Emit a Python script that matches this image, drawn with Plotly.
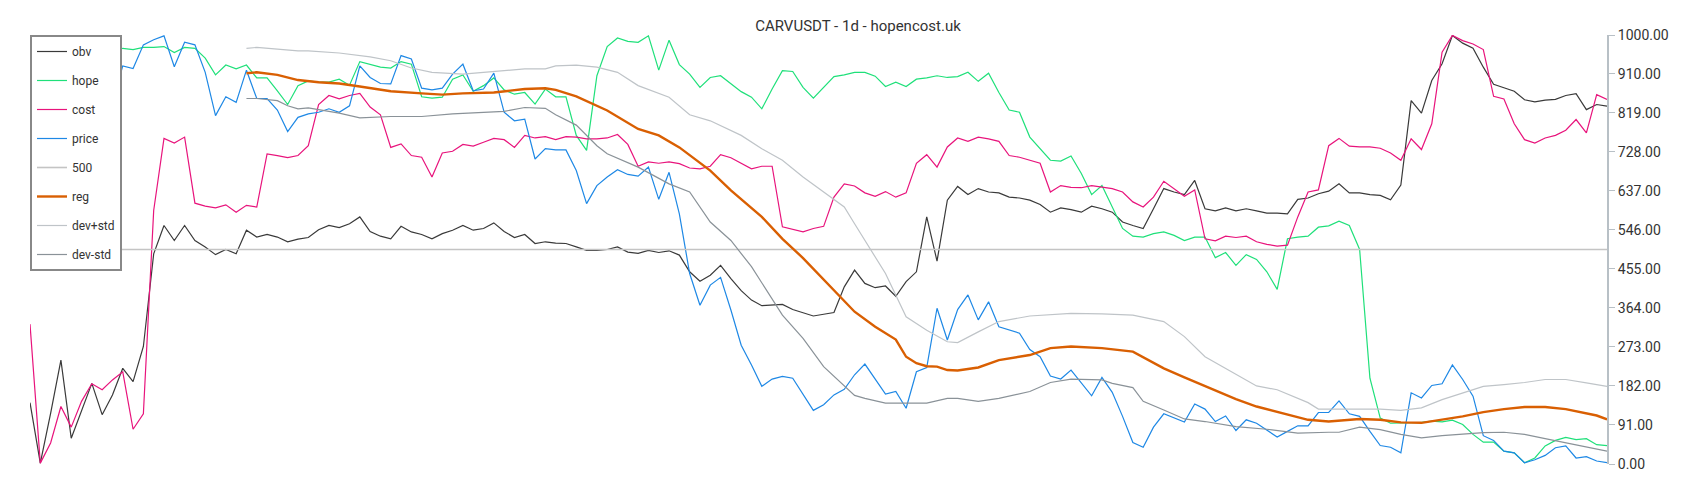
import plotly.graph_objects as go

# daily candles, index 0..153 (one per day)
obv = [143, 2, 118, 242, 60, 126, 188, 115, 161, 223, 192, 274, 490, 556, 521, 556, 521, 506, 488, 500,
       490, 545, 529, 535, 529, 518, 524, 528, 546, 556, 551, 560, 576, 542, 531, 525, 554, 541, 535, 525,
       537, 545, 556, 545, 549, 562, 542, 528, 535, 514, 518, 515, 514, 506, 498, 498, 500, 506, 494, 491,
       498, 493, 497, 487, 448, 426, 440, 463, 432, 404, 382, 369, 370, 372, 360, 353, 345, 349, 353, 413,
       452, 421, 411, 415, 391, 425, 448, 576, 473, 615, 647, 628, 642, 634, 632, 622, 620, 615, 605, 587,
       597, 593, 587, 601, 595, 587, 564, 556, 549, 595, 642, 634, 628, 661, 595, 590, 597, 590, 595, 590,
       585, 585, 583, 617, 620, 630, 636, 653, 632, 632, 628, 626, 616, 650, 847, 818, 894, 933, 999, 981,
       969, 925, 885, 877, 869, 849, 844, 848, 850, 859, 863, 826, 838, 834]
hope = [955, 965, 965, 968, 965, 970, 965, 960, 958, 969, 966, 971, 971, 973, 959, 971, 969, 946, 907, 930,
        921, 930, 900, 900, 870, 838, 882, 893, 890, 890, 897, 883, 938, 932, 925, 923, 938, 932, 856, 853,
        855, 897, 907, 869, 882, 900, 872, 862, 866, 839, 874, 856, 856, 766, 731, 905, 973, 993, 985, 983,
        998, 918, 988, 931, 909, 878, 901, 905, 886, 868, 855, 828, 874, 917, 915, 878, 853, 878, 903, 907,
        913, 913, 904, 880, 890, 880, 897, 900, 905, 901, 903, 913, 892, 911, 866, 825, 820, 762, 735, 708,
        706, 718, 677, 628, 649, 599, 549, 531, 529, 537, 541, 533, 521, 529, 529, 481, 493, 463, 488, 477,
        448, 407, 525, 529, 531, 552, 555, 566, 556, 500, 200, 107, 95, 96, 97, 97, 100, 98, 102, 92,
        69, 51, 51, 30, 26, 3, 14, 42, 55, 62, 57, 59, 45, 43]
cost = [326, 2, 49, 134, 86, 146, 187, 173, 196, 215, 81, 117, 591, 759, 748, 762, 608, 601, 597, 604,
        587, 603, 599, 723, 719, 714, 719, 742, 838, 859, 851, 859, 864, 832, 814, 738, 746, 719, 715, 669,
        725, 729, 745, 741, 750, 759, 756, 738, 766, 760, 763, 756, 763, 762, 758, 758, 760, 768, 745, 694,
        704, 701, 704, 700, 690, 688, 694, 721, 714, 701, 688, 694, 694, 553, 547, 541, 549, 554, 622, 653,
        648, 632, 624, 635, 622, 632, 701, 721, 692, 739, 760, 752, 762, 758, 752, 719, 715, 708, 701, 634,
        649, 645, 644, 649, 645, 642, 634, 611, 599, 622, 659, 642, 624, 639, 525, 520, 531, 528, 531, 518,
        512, 508, 510, 576, 634, 639, 742, 759, 741, 739, 739, 736, 725, 708, 758, 733, 793, 960, 999, 987,
        979, 966, 857, 851, 793, 756, 748, 760, 766, 778, 803, 772, 861, 850]
price = [820, 840, 900, 930, 925, 960, 940, 870, 843, 928, 922, 977, 989, 998, 926, 983, 977, 913, 812, 856,
         843, 918, 852, 852, 825, 775, 808, 816, 820, 828, 820, 835, 928, 901, 887, 886, 952, 944, 876, 872,
         876, 909, 932, 870, 874, 911, 820, 800, 804, 711, 735, 732, 732, 684, 607, 649, 669, 686, 675, 671,
         692, 617, 680, 583, 444, 370, 417, 435, 359, 277, 231, 181, 198, 204, 200, 161, 125, 138, 161, 174,
         208, 233, 198, 163, 169, 130, 215, 225, 363, 289, 360, 394, 336, 378, 320, 312, 305, 267, 250, 205,
         198, 219, 188, 159, 202, 167, 111, 50, 39, 86, 117, 108, 98, 140, 128, 99, 112, 78, 103, 95,
         80, 63, 76, 89, 89, 120, 120, 147, 117, 111, 76, 43, 39, 26, 166, 154, 183, 187, 231, 197,
         158, 66, 55, 30, 26, 3, 10, 20, 38, 42, 14, 17, 7, 3]

reg_idx = [21, 22, 24, 25, 26, 28, 30, 32, 33, 35, 38, 40, 42, 45, 48, 50, 51, 53, 56, 59, 61, 63, 66, 68,
           71, 73, 75, 77, 80, 82, 84, 85, 86, 87, 88, 89, 90, 92, 94, 97, 99, 101, 104, 107, 109, 110,
           112, 114, 117, 119, 122, 124, 126, 129, 131, 133, 135, 137, 139, 141, 143, 145, 147, 149, 150,
           151, 152, 153]
reg_val = [911, 913, 907, 901, 895, 890, 887, 880, 876, 869, 864, 861, 864, 866, 874, 876, 872, 857, 824,
           781, 766, 738, 684, 638, 576, 525, 480, 430, 355, 320, 290, 250, 235, 228, 227, 219, 218, 225,
           242, 254, 270, 274, 270, 262, 236, 223, 202, 181, 151, 134, 116, 103, 99, 105, 103, 97, 96,
           104, 111, 121, 128, 133, 133, 128, 123, 119, 113, 104]

up_idx = [21, 22, 24, 25, 26, 27, 30, 33, 35, 37, 39, 42, 45, 48, 50, 51, 53, 55, 57, 59, 62, 64, 66, 69,
          71, 73, 75, 77, 79, 80, 81, 83, 85, 87, 89, 90, 92, 94, 97, 101, 104, 107, 110, 112, 114, 117,
          119, 121, 123, 124, 125, 128, 131, 133, 135, 137, 139, 141, 143, 145, 147, 149, 151, 153]
up_val = [969, 971, 967, 965, 963, 963, 958, 949, 940, 923, 913, 909, 915, 921, 921, 928, 930, 925, 913,
          882, 855, 814, 800, 766, 735, 708, 669, 634, 599, 560, 522, 444, 343, 312, 285, 283, 308, 332,
          345, 351, 350, 347, 332, 297, 250, 210, 182, 173, 153, 143, 128, 128, 128, 125, 131, 150, 166,
          181, 185, 190, 197, 197, 189, 181]

dn_idx = [21, 22, 24, 25, 26, 27, 30, 32, 35, 38, 41, 44, 46, 48, 50, 51, 53, 55, 56, 59, 62, 64, 66, 68,
          70, 73, 75, 77, 79, 80, 81, 83, 87, 89, 90, 92, 94, 97, 99, 101, 104, 105, 107, 108, 110, 112,
          114, 117, 120, 123, 126, 127, 129, 131, 133, 135, 137, 139, 141, 143, 145, 147, 149, 151, 153]
dn_val = [852, 852, 847, 835, 828, 830, 818, 807, 810, 810, 816, 820, 822, 831, 829, 814, 790, 742, 723,
          692, 653, 634, 564, 521, 460, 347, 293, 227, 181, 160, 153, 142, 142, 153, 153, 146, 153, 169,
          190, 198, 196, 188, 178, 146, 126, 105, 99, 87, 81, 72, 74, 74, 86, 80, 69, 61, 66, 69, 73, 74,
          69, 59, 49, 40, 30]

days = list(range(len(obv)))
tickvals = [0, 91, 182, 273, 364, 455, 546, 637, 728, 819, 910, 1000]

fig = go.Figure()

def add(name, x, y, color, width=1.2):
    fig.add_trace(go.Scatter(x=x, y=y, mode='lines', name=name, legendgroup=name,
                             line=dict(color=color, width=width)))

add('obv', days, obv, '#3a3a3a')
add('hope', days, hope, '#1fe07a')
add('cost', days, cost, '#e8147c')
add('price', days, price, '#1e88e5')
add('500', [days[0], days[-1]], [500, 500], '#c4c4c4', 1.6)
add('reg', reg_idx, reg_val, '#d95f02', 2.4)
add('dev+std', up_idx, up_val, '#bfc4c8')
add('dev-std', dn_idx, dn_val, '#8a9298')

fig.update_layout(
    title=dict(text='CARVUSDT - 1d - hopencost.uk', x=0.5, y=0.975, xanchor='center',
               font=dict(family='Roboto', size=15, color='#333')),
    width=1700, height=500,
    paper_bgcolor='white', plot_bgcolor='white',
    font=dict(family='Roboto', color='#333'),
    margin=dict(l=22, r=101, t=27, b=44),
    xaxis=dict(visible=False, range=[0, days[-1]]),
    yaxis=dict(side='right', range=[0, 1000], tickvals=tickvals, tickformat='.2f',
               showgrid=False, zeroline=False, showline=True, linecolor='#b8c0c6', linewidth=2,
               ticks='outside', tickcolor='#b8c0c6', ticklen=6, tickfont=dict(size=14, color='#333')),
    legend=dict(x=0, y=1, xanchor='left', yanchor='top', bgcolor='white',
                bordercolor='#888', borderwidth=2, tracegroupgap=10,
                font=dict(size=12, color='#333')),
)

fig.write_html("out.html")
